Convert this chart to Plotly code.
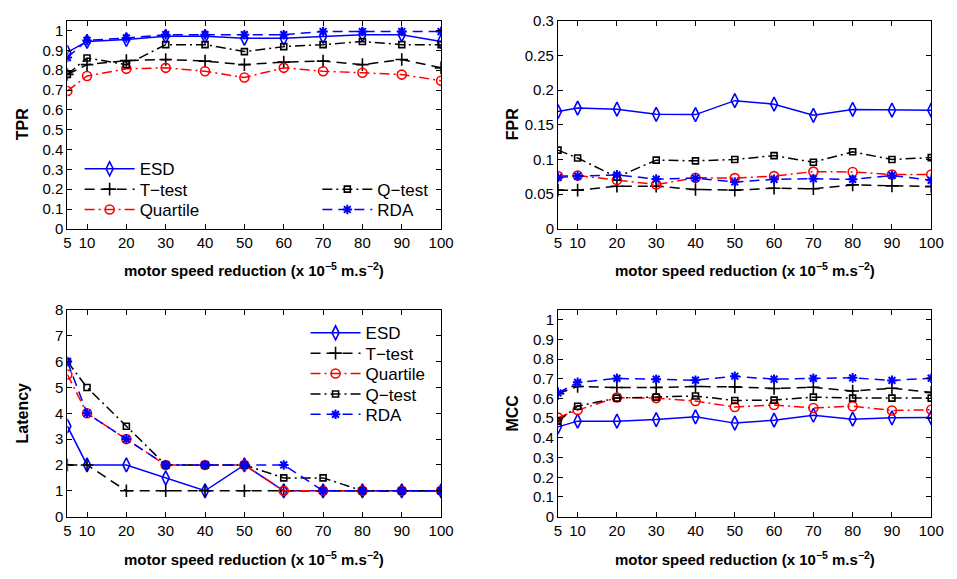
import plotly.graph_objects as go

# speed reduction levels (x 1e-5 m.s^-2)
speed = [5, 10, 20, 30, 40, 50, 60, 70, 80, 90, 100]
methods = ["ESD", "T\u2212test", "Quartile", "Q\u2212test", "RDA"]

# True positive rate
tpr_esd = [0.89, 0.945, 0.955, 0.971, 0.971, 0.961, 0.961, 0.971, 0.979, 0.979, 0.945]
tpr_ttest = [0.779, 0.828, 0.849, 0.854, 0.846, 0.828, 0.841, 0.846, 0.828, 0.854, 0.812]
tpr_quartile = [0.695, 0.771, 0.807, 0.812, 0.795, 0.763, 0.812, 0.795, 0.787, 0.778, 0.747]
tpr_qtest = [0.779, 0.862, 0.828, 0.929, 0.929, 0.894, 0.919, 0.929, 0.945, 0.929, 0.929]
tpr_rda = [0.864, 0.95, 0.963, 0.979, 0.979, 0.979, 0.979, 0.995, 0.995, 0.995, 0.995]

# False positive rate
fpr_esd = [0.169, 0.174, 0.1725, 0.165, 0.1646, 0.1847, 0.1796, 0.1636, 0.172, 0.171, 0.171]
fpr_ttest = [0.0558, 0.0558, 0.0614, 0.0614, 0.0567, 0.0558, 0.0586, 0.0577, 0.0633, 0.0619, 0.061]
fpr_quartile = [0.076, 0.0769, 0.0703, 0.0638, 0.0736, 0.0731, 0.076, 0.0825, 0.082, 0.0783, 0.0783]
fpr_qtest = [0.1135, 0.102, 0.0745, 0.099, 0.098, 0.0999, 0.1055, 0.096, 0.111, 0.0999, 0.1027]
fpr_rda = [0.074, 0.076, 0.0778, 0.0717, 0.0731, 0.0675, 0.0713, 0.0722, 0.0713, 0.0769, 0.0699]

# Detection latency
lat_esd = [3.5, 2, 2, 1.5, 1, 2, 1, 1, 1, 1, 1]
lat_ttest = [2, 2, 1, 1, 1, 1, 1, 1, 1, 1, 1]
lat_quartile = [5.5, 4, 3, 2, 2, 2, 1, 1, 1, 1, 1]
lat_qtest = [6, 5, 3.5, 2, 2, 2, 1.5, 1.5, 1, 1, 1]
lat_rda = [6, 4, 3, 2, 2, 2, 2, 1, 1, 1, 1]

# Matthews correlation coefficient
mcc_esd = [0.456, 0.485, 0.485, 0.493, 0.507, 0.475, 0.49, 0.515, 0.495, 0.502, 0.503]
mcc_ttest = [0.625, 0.661, 0.656, 0.656, 0.661, 0.659, 0.651, 0.657, 0.638, 0.652, 0.631]
mcc_quartile = [0.503, 0.541, 0.605, 0.602, 0.587, 0.557, 0.567, 0.552, 0.561, 0.539, 0.543]
mcc_qtest = [0.485, 0.561, 0.602, 0.607, 0.613, 0.59, 0.592, 0.607, 0.602, 0.602, 0.602]
mcc_rda = [0.628, 0.682, 0.702, 0.698, 0.693, 0.713, 0.698, 0.702, 0.705, 0.692, 0.703]

FONT = "Liberation Sans, Arial, Helvetica, sans-serif"
W, H = 957, 579

styles = [
    dict(color="#0000ff", dash="solid", symbol="diamond-tall-open", size=10),
    dict(color="#000000", dash="10px,6px", symbol="cross-thin-open", size=9),
    dict(color="#ff0000", dash="10px,4px,2px,4px", symbol="circle-open", size=9),
    dict(color="#000000", dash="10px,4px,2px,4px", symbol="square-open", size=6),
    dict(color="#0000ff", dash="10px,6px", symbol="asterisk-open", size=8),
]

# each legend entry gets its own legend box: (text left px, row centre px)
tpr_legend_pos = [(139, 163), (139, 184), (139, 205), (381, 184), (381, 205)]
lat_legend_pos = [(369, 332), (369, 353), (369, 374), (369, 395), (369, 416)]

panels = [
    ("x", "y", [tpr_esd, tpr_ttest, tpr_quartile, tpr_qtest, tpr_rda], 0),
    ("x2", "y2", [fpr_esd, fpr_ttest, fpr_quartile, fpr_qtest, fpr_rda], None),
    ("x3", "y3", [lat_esd, lat_ttest, lat_quartile, lat_qtest, lat_rda], 5),
    ("x4", "y4", [mcc_esd, mcc_ttest, mcc_quartile, mcc_qtest, mcc_rda], None),
]

def legend_id(n):
    return "legend" if n == 0 else f"legend{n + 1}"

fig = go.Figure()
for xa, ya, series, leg0 in panels:
    for i, (name, vals, st) in enumerate(zip(methods, series, styles)):
        fig.add_trace(go.Scatter(
            x=speed, y=vals, name=name, xaxis=xa, yaxis=ya,
            mode="lines+markers",
            line=dict(color=st["color"], dash=st["dash"], width=1.5),
            marker=dict(symbol=st["symbol"], size=st["size"], color=st["color"],
                        line=dict(color=st["color"], width=1.6 if i != 4 else 2)),
            showlegend=leg0 is not None,
            legend=legend_id(leg0 + i) if leg0 is not None else None,
        ))

def px_x(a, b):
    return [a / W, b / W]
def px_y(top, bottom):
    return [1 - bottom / H, 1 - top / H]

xcols = [px_x(64.5, 445), px_x(564, 944)]
yrows = [px_y(12, 226.5), px_y(310, 523)]

tick_font = dict(family=FONT, size=15, color="black")
def xaxis(dom, anchor):
    return dict(domain=dom, anchor=anchor, range=[5, 100], tickvals=speed,
                ticks="inside", ticklen=5, tickwidth=1, tickcolor="black",
                showline=True, linecolor="black", linewidth=1, mirror="ticks",
                showgrid=False, zeroline=False, tickfont=tick_font)

def yaxis(dom, anchor, rng, vals, texts):
    return dict(domain=dom, anchor=anchor, range=rng, tickvals=vals, ticktext=texts,
                ticks="inside", ticklen=5, tickwidth=1, tickcolor="black",
                showline=True, linecolor="black", linewidth=1, mirror="ticks",
                showgrid=False, zeroline=False, tickfont=tick_font)

unit_vals = [i / 10 for i in range(11)]
unit_text = ["0"] + [f"{v:.1f}" for v in unit_vals[1:-1]] + ["1"]
fpr_vals = [0, 0.05, 0.1, 0.15, 0.2, 0.25, 0.3]
fpr_text = ["0", "0.05", "0.1", "0.15", "0.2", "0.25", "0.3"]
lat_vals = list(range(9))
lat_text = [str(v) for v in lat_vals]

legend_common = dict(font=dict(family=FONT, size=17, color="black"),
                     bgcolor="rgba(0,0,0,0)", borderwidth=0,
                     itemwidth=50, xanchor="left", yanchor="top")

legends = {}
for n, (tx, cy) in enumerate(tpr_legend_pos + lat_legend_pos):
    legends[legend_id(n)] = dict(x=(tx - 62) / W, y=1 - (cy - 16.5) / H, **legend_common)

fig.update_layout(
    width=W, height=H,
    margin=dict(l=0, r=0, t=0, b=0),
    paper_bgcolor="white", plot_bgcolor="white",
    font=dict(family=FONT, color="black"),
    xaxis=xaxis(xcols[0], "y"),
    yaxis=yaxis(yrows[0], "x", [0, 1.05], unit_vals, unit_text),
    xaxis2=xaxis(xcols[1], "y2"),
    yaxis2=yaxis(yrows[0], "x2", [0, 0.3], fpr_vals, fpr_text),
    xaxis3=xaxis(xcols[0], "y3"),
    yaxis3=yaxis(yrows[1], "x3", [0, 8], lat_vals, lat_text),
    xaxis4=xaxis(xcols[1], "y4"),
    yaxis4=yaxis(yrows[1], "x4", [0, 1.05], unit_vals, unit_text),
    **legends,
)

xtitle = "<b>motor speed reduction (x 10<sup>\u22125</sup> m.s<sup>\u22122</sup>)</b>"
annotations = []
for cx in [(64.5 + 445) / 2, (564 + 944) / 2]:
    for cy in [268, 566]:
        annotations.append(dict(text=xtitle, x=cx / W, y=1 - cy / H, xref="paper", yref="paper",
                                showarrow=False, xanchor="center", yanchor="middle",
                                font=dict(family=FONT, size=15, color="black")))
for txt, cx, cy in [("TPR", 19, 119), ("FPR", 518, 119), ("Latency", 19, 416), ("MCC", 518, 416)]:
    annotations.append(dict(text=f"<b>{txt}</b>", x=cx / W, y=1 - cy / H, xref="paper", yref="paper",
                            showarrow=False, textangle=-90, xanchor="center", yanchor="middle",
                            font=dict(family=FONT, size=16, color="black")))
fig.update_layout(annotations=annotations)

fig.write_html("out.html")
